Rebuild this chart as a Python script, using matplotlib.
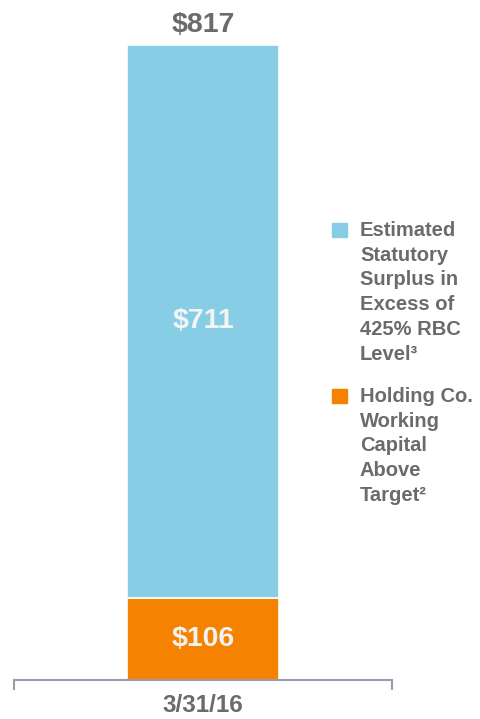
import matplotlib.pyplot as plt
from matplotlib.patches import Rectangle

plt.rcParams["font.family"] = ["Liberation Sans", "DejaVu Sans"]

# values in $ millions
periods = ["3/31/16"]
holding_capital = [106]
statutory_surplus = [711]
series_labels = [
    "Estimated\nStatutory\nSurplus in\nExcess of\n425% RBC\nLevel\u00b3",
    "Holding Co.\nWorking\nCapital\nAbove\nTarget\u00b2",
]

BLUE = "#87cde6"
ORANGE = "#f58200"
GRAY = "#6b6b6b"

fig = plt.figure(figsize=(4.81, 7.19), dpi=100)
ax = fig.add_axes([14 / 481, 39 / 719, 378 / 481, 635 / 719])

x = [0]
totals = [h + s for h, s in zip(holding_capital, statutory_surplus)]
ax.bar(x, holding_capital, width=0.804, color=ORANGE, edgecolor="white", linewidth=1.2)
ax.bar(x, statutory_surplus, bottom=holding_capital, width=0.804, color=BLUE,
       edgecolor="white", linewidth=1.2)

ax.set_xlim(-1, 1)
ax.set_ylim(0, totals[0])

for i in x:
    ax.text(i, holding_capital[i] / 2, f"${holding_capital[i]}", ha="center", va="center",
            color="#f2f2f2", fontsize=20.5, fontweight="bold")
    ax.text(i, holding_capital[i] + statutory_surplus[i] / 2, f"${statutory_surplus[i]}",
            ha="center", va="center", color="#f4f4f4", fontsize=20.5, fontweight="bold")
    ax.text(i, totals[i] * 1.011, f"${totals[i]}", ha="center", va="bottom",
            color=GRAY, fontsize=20.5, fontweight="bold")

for side in ["top", "right", "left"]:
    ax.spines[side].set_visible(False)
ax.spines["bottom"].set_color("#9b9bab")
ax.spines["bottom"].set_linewidth(1.5)
ax.set_yticks([])
ax.set_xticks([-1, 1])
ax.set_xticklabels(["", ""])
ax.tick_params(axis="x", length=7, width=1.5, color="#9b9bab", direction="out")
ax.text(0, -0.04, periods[0], transform=ax.get_xaxis_transform(), ha="center", va="center",
        color=GRAY, fontsize=17.5, fontweight="bold")

# legend drawn by hand so the swatch sits on the first line
legend_tops = [223, 389]
for top, label, color in zip(legend_tops, series_labels, [BLUE, ORANGE]):
    fig.patches.append(Rectangle((332 / 481, 1 - (top + 14) / 719), 15 / 481, 14 / 719,
                                 transform=fig.transFigure, color=color))
    fig.text(360 / 481, 1 - (top - 2) / 719, label, ha="left", va="top", color=GRAY,
             fontsize=14.5, fontweight="bold", linespacing=1.38)

fig.savefig("out.png", dpi=100)
